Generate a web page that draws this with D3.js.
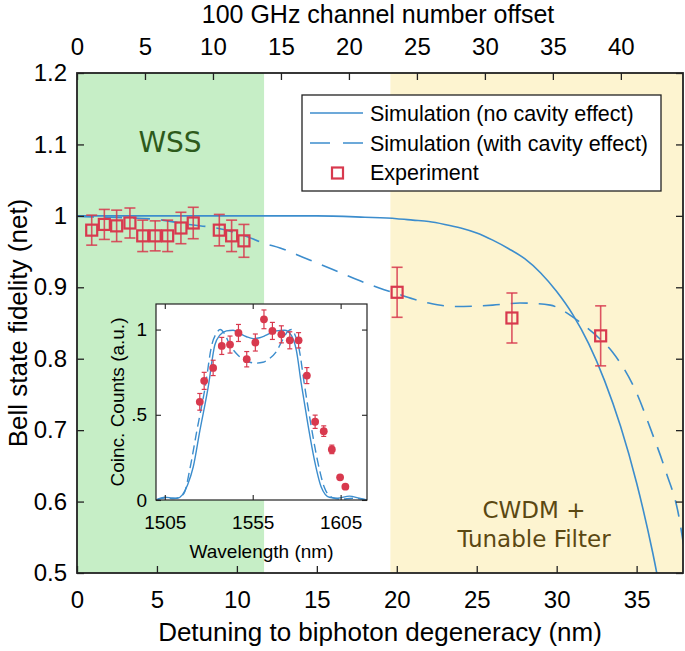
<!DOCTYPE html>
<html>
<head>
<meta charset="utf-8">
<script src="https://cdn.jsdelivr.net/npm/d3@7"></script>
<style>
  body { margin: 0; background: #fff; }
  text { font-family: "Liberation Sans", Arial, sans-serif; fill: #000; }
</style>
</head>
<body>
<div id="chart"></div>
<script>
// ---- data ----
var bottomTicks = [0, 5, 10, 15, 20, 25, 30, 35];
var topTicks = [0, 5, 10, 15, 20, 25, 30, 35, 40];
var yTicks = [0.5, 0.6, 0.7, 0.8, 0.9, 1.0, 1.1, 1.2];
var yTickLabels = ["0.5", "0.6", "0.7", "0.8", "0.9", "1", "1.1", "1.2"];

// shaded filter regions (nm)
var wssBand = [0, 11.7];
var cwdmBand = [19.6, 37.9];

// experiment
var expDetuning = [0.92, 1.71, 2.48, 3.31, 4.11, 4.89, 5.67, 6.5, 7.27, 8.9, 9.67, 10.44, 20.02, 27.2, 32.75];
var expFidelity = [0.980, 0.988, 0.986, 0.990, 0.972, 0.972, 0.972, 0.983, 0.990, 0.980, 0.972, 0.965, 0.893, 0.857, 0.832];
var expError = [0.021, 0.021, 0.022, 0.021, 0.022, 0.021, 0.022, 0.022, 0.022, 0.022, 0.022, 0.023, 0.035, 0.035, 0.042];

// simulation, no cavity effect
var simNoCavX = [0, 5, 10, 15, 18, 20, 21, 22, 23, 24, 25, 26, 27, 28, 29, 30, 31, 32, 33, 34, 35, 36, 37];
var simNoCavY = [1.000, 1.000, 1.000, 1.000, 0.998, 0.996, 0.994, 0.992, 0.988, 0.983, 0.976, 0.966, 0.954, 0.940, 0.920, 0.894, 0.862, 0.821, 0.769, 0.705, 0.626, 0.529, 0.411];

// simulation, with cavity effect
var simCavX = [0, 2, 5, 7, 8.7, 10.4, 11.64, 12.7, 14.36, 16.0, 17.7, 18.9, 20, 22, 23.7, 26, 27.7, 29.6, 30.5, 31.4, 32.5, 33.5, 35, 35.9, 36.86, 37.6, 38];
var simCavY = [0.999, 0.998, 0.995, 0.988, 0.983, 0.973, 0.962, 0.955, 0.940, 0.925, 0.909, 0.899, 0.891, 0.878, 0.873, 0.875, 0.878, 0.875, 0.866, 0.852, 0.832, 0.809, 0.752, 0.700, 0.640, 0.584, 0.530];

// inset: coincidence spectrum
var insetXTicks = [1505, 1555, 1605];
var insetYTicks = [0, 0.5, 1];
var insetYTickLabels = ["0", ".5", "1"];
var specWl = [1524.9, 1527.4, 1532.5, 1537.4, 1542.1, 1546.9, 1551.6, 1556.5, 1561.4, 1566.2, 1571.3, 1576.1, 1581.1, 1585.8, 1590.5, 1595.4, 1600.0, 1604.7, 1607.7];
var specCounts = [0.576, 0.699, 0.775, 0.904, 0.912, 0.980, 0.826, 0.924, 1.060, 0.992, 0.972, 0.937, 0.937, 0.730, 0.459, 0.404, 0.297, 0.133, 0.078];
var specError = [0.049, 0.05, 0.045, 0.05, 0.05, 0.05, 0.045, 0.05, 0.055, 0.05, 0.05, 0.05, 0.045, 0.047, 0.039, 0.031, 0.025, 0, 0];

var specNoCavWl = [1500, 1505, 1509, 1512, 1515, 1518, 1521.2, 1525, 1529.7, 1533.4, 1536.3, 1540.1, 1543.9, 1547.6, 1551.5, 1555.2, 1559, 1562.7, 1568.4, 1573.1, 1576.9, 1579.8, 1582.6, 1586.3, 1590.1, 1593.9, 1598.6, 1603.3, 1610, 1615.6, 1620];
var specNoCavY = [0.0, 0.016, 0.012, 0.01, 0.03, 0.09, 0.195, 0.41, 0.664, 0.908, 0.967, 0.992, 0.996, 0.977, 0.958, 0.947, 0.952, 0.967, 0.992, 0.996, 0.967, 0.879, 0.684, 0.449, 0.234, 0.078, 0.016, 0.01, 0.023, 0.01, 0.0];

var specCavWl = [1500, 1505, 1510, 1513, 1516, 1519.5, 1523.3, 1528, 1531.7, 1534.5, 1536.5, 1539, 1542, 1545.7, 1549.5, 1553.3, 1557, 1560.8, 1564.6, 1568.4, 1572, 1575, 1577, 1579, 1581.5, 1584.3, 1588, 1591.8, 1595.6, 1600, 1605, 1612, 1620];
var specCavY = [0.0, 0.012, 0.008, 0.015, 0.04, 0.195, 0.41, 0.664, 0.908, 0.98, 1.0, 0.975, 0.91, 0.86, 0.825, 0.808, 0.803, 0.808, 0.83, 0.87, 0.94, 0.99, 1.0, 0.97, 0.88, 0.684, 0.449, 0.234, 0.078, 0.016, 0.005, 0.01, 0.0];

var blue = "#3c8dcd";
var red = "#d8394e";

drawChart();

function drawChart() {
  var width = 685, height = 651;
  var left = 77, right = 683, top = 73, bottom = 573;

  var svg = d3.select("#chart").append("svg")
    .attr("width", width)
    .attr("height", height);

  var x = d3.scaleLinear().domain([0, 37.9]).range([left, right]);
  var xTop = d3.scaleLinear().domain([0, 44.57]).range([left, right]);
  var y = d3.scaleLinear().domain([0.5, 1.2]).range([bottom, top]);

  svg.append("clipPath").attr("id", "plotclip")
    .append("rect").attr("x", left).attr("y", top)
    .attr("width", right - left).attr("height", bottom - top);

  // shaded regions
  svg.append("rect")
    .attr("x", x(wssBand[0])).attr("y", top)
    .attr("width", x(wssBand[1]) - x(wssBand[0])).attr("height", bottom - top)
    .attr("fill", "#c6eec6");
  svg.append("rect")
    .attr("x", x(cwdmBand[0])).attr("y", top)
    .attr("width", x(cwdmBand[1]) - x(cwdmBand[0])).attr("height", bottom - top)
    .attr("fill", "#fdf4d0");

  svg.append("text").attr("x", 170).attr("y", 152)
    .attr("text-anchor", "middle")
    .style("font-family", "'DejaVu Sans', sans-serif")
    .style("font-size", "28px").style("fill", "#2d5a1b")
    .text("WSS");
  svg.append("text").attr("x", 534).attr("y", 518)
    .attr("text-anchor", "middle")
    .style("font-family", "'DejaVu Sans', sans-serif")
    .style("font-size", "23px").style("fill", "#5b4812")
    .text("CWDM +");
  svg.append("text").attr("x", 534).attr("y", 547)
    .attr("text-anchor", "middle")
    .style("font-family", "'DejaVu Sans', sans-serif")
    .style("font-size", "23px").style("fill", "#5b4812")
    .text("Tunable Filter");

  // simulation curves
  var plot = svg.append("g").attr("clip-path", "url(#plotclip)");
  var line = d3.line()
    .x(function(d) { return x(d[0]); })
    .y(function(d) { return y(d[1]); })
    .curve(d3.curveMonotoneX);

  plot.append("path")
    .attr("d", line(d3.zip(simNoCavX, simNoCavY)))
    .attr("fill", "none").attr("stroke", blue).attr("stroke-width", 1.6);
  plot.append("path")
    .attr("d", line(d3.zip(simCavX, simCavY)))
    .attr("fill", "none").attr("stroke", blue).attr("stroke-width", 1.6)
    .attr("stroke-dasharray", "17,11");

  // experiment points
  var exp = plot.selectAll(".exp")
    .data(d3.zip(expDetuning, expFidelity, expError))
    .enter().append("g").attr("class", "exp");
  exp.append("line")
    .attr("x1", function(d) { return x(d[0]); })
    .attr("x2", function(d) { return x(d[0]); })
    .attr("y1", function(d) { return y(d[1] - d[2]); })
    .attr("y2", function(d) { return y(d[1] + d[2]); })
    .attr("stroke", red).attr("stroke-width", 1.6).attr("opacity", 0.85);
  [-1, 1].forEach(function(s) {
    exp.append("line")
      .attr("x1", function(d) { return x(d[0]) - 5.5; })
      .attr("x2", function(d) { return x(d[0]) + 5.5; })
      .attr("y1", function(d) { return y(d[1] + s * d[2]); })
      .attr("y2", function(d) { return y(d[1] + s * d[2]); })
      .attr("stroke", red).attr("stroke-width", 1.6).attr("opacity", 0.85);
  });
  exp.append("rect")
    .attr("x", function(d) { return x(d[0]) - 5.5; })
    .attr("y", function(d) { return y(d[1]) - 5.5; })
    .attr("width", 11).attr("height", 11)
    .attr("fill", "none").attr("stroke", red).attr("stroke-width", 2.2);

  // axes, ticks pointing in
  var axB = svg.append("g").attr("transform", "translate(0," + bottom + ")")
    .call(d3.axisBottom(x).tickValues(bottomTicks).tickSize(-7).tickPadding(18));
  var axT = svg.append("g").attr("transform", "translate(0," + top + ")")
    .call(d3.axisTop(xTop).tickValues(topTicks).tickSize(-7).tickPadding(18));
  var axL = svg.append("g").attr("transform", "translate(" + left + ",0)")
    .call(d3.axisLeft(y).tickValues(yTicks).tickSize(-7).tickPadding(10)
      .tickFormat(function(d, i) { return yTickLabels[i]; }));
  var axR = svg.append("g").attr("transform", "translate(" + right + ",0)")
    .call(d3.axisRight(y).tickValues(yTicks).tickSize(-7).tickFormat(""));
  [axB, axT, axL, axR].forEach(function(a) {
    a.select(".domain").remove();
    a.selectAll("line").attr("stroke", "#222").attr("stroke-width", 1.3);
    a.selectAll("text").style("font-size", "24px")
      .style("font-family", "'Liberation Sans', Arial, sans-serif");
  });
  svg.append("rect")
    .attr("x", left).attr("y", top)
    .attr("width", right - left).attr("height", bottom - top)
    .attr("fill", "none").attr("stroke", "#222").attr("stroke-width", 1.8);

  svg.append("text").attr("x", 378).attr("y", 23)
    .attr("text-anchor", "middle").style("font-size", "25px")
    .text("100 GHz channel number offset");
  svg.append("text").attr("x", 380).attr("y", 641)
    .attr("text-anchor", "middle").style("font-size", "26px")
    .text("Detuning to biphoton degeneracy (nm)");
  svg.append("text")
    .attr("transform", "translate(27," + ((top + bottom) / 2) + ") rotate(-90)")
    .attr("text-anchor", "middle").style("font-size", "26px")
    .text("Bell state fidelity (net)");

  // legend
  var lg = svg.append("g");
  lg.append("rect").attr("x", 302).attr("y", 95).attr("width", 359).attr("height", 96)
    .attr("fill", "#fff").attr("stroke", "#222").attr("stroke-width", 1.3);
  lg.append("line").attr("x1", 310).attr("x2", 363).attr("y1", 113).attr("y2", 113)
    .attr("stroke", blue).attr("stroke-width", 1.6);
  lg.append("line").attr("x1", 310).attr("x2", 363).attr("y1", 143).attr("y2", 143)
    .attr("stroke", blue).attr("stroke-width", 1.6).attr("stroke-dasharray", "20,13");
  lg.append("rect").attr("x", 332).attr("y", 167.5).attr("width", 11).attr("height", 11)
    .attr("fill", "none").attr("stroke", red).attr("stroke-width", 2.2);
  var legendText = ["Simulation (no cavity effect)", "Simulation (with cavity effect)", "Experiment"];
  lg.selectAll(".lt").data(legendText).enter().append("text")
    .attr("x", 370).attr("y", function(d, i) { return 121 + i * 29.5; })
    .style("font-size", "21.5px")
    .text(function(d) { return d; });

  drawInset(svg);
}

function drawInset(svg) {
  var l = 156, r = 367, t = 304, b = 500;
  var x = d3.scaleLinear().domain([1500, 1620]).range([l, r]);
  var y = d3.scaleLinear().domain([0, 1.15]).range([b, t]);

  svg.append("clipPath").attr("id", "insetclip")
    .append("rect").attr("x", l).attr("y", t).attr("width", r - l).attr("height", b - t);

  svg.append("rect").attr("x", l).attr("y", t).attr("width", r - l).attr("height", b - t)
    .attr("fill", "#fff");

  var g = svg.append("g").attr("clip-path", "url(#insetclip)");
  var line = d3.line()
    .x(function(d) { return x(d[0]); })
    .y(function(d) { return y(d[1]); })
    .curve(d3.curveMonotoneX);
  g.append("path").attr("d", line(d3.zip(specNoCavWl, specNoCavY)))
    .attr("fill", "none").attr("stroke", blue).attr("stroke-width", 1.4);
  g.append("path").attr("d", line(d3.zip(specCavWl, specCavY)))
    .attr("fill", "none").attr("stroke", blue).attr("stroke-width", 1.4)
    .attr("stroke-dasharray", "9,5");

  var pts = g.selectAll(".sp").data(d3.zip(specWl, specCounts, specError))
    .enter().append("g").attr("class", "sp");
  pts.filter(function(d) { return d[2] > 0; }).each(function(d) {
    var s = d3.select(this);
    s.append("line").attr("x1", x(d[0])).attr("x2", x(d[0]))
      .attr("y1", y(d[1] - d[2])).attr("y2", y(d[1] + d[2]));
    s.append("line").attr("x1", x(d[0]) - 2.5).attr("x2", x(d[0]) + 2.5)
      .attr("y1", y(d[1] - d[2])).attr("y2", y(d[1] - d[2]));
    s.append("line").attr("x1", x(d[0]) - 2.5).attr("x2", x(d[0]) + 2.5)
      .attr("y1", y(d[1] + d[2])).attr("y2", y(d[1] + d[2]));
    s.selectAll("line").attr("stroke", red).attr("stroke-width", 1.2);
  });
  pts.append("circle")
    .attr("cx", function(d) { return x(d[0]); })
    .attr("cy", function(d) { return y(d[1]); })
    .attr("r", 3.9).attr("fill", red);

  var axB = svg.append("g").attr("transform", "translate(0," + b + ")")
    .call(d3.axisBottom(x).tickValues(insetXTicks).tickSize(-5).tickPadding(16)
      .tickFormat(d3.format("d")));
  var axT = svg.append("g").attr("transform", "translate(0," + t + ")")
    .call(d3.axisTop(x).tickValues(insetXTicks).tickSize(-5).tickFormat(""));
  var axL = svg.append("g").attr("transform", "translate(" + l + ",0)")
    .call(d3.axisLeft(y).tickValues(insetYTicks).tickSize(-5).tickPadding(9)
      .tickFormat(function(d, i) { return insetYTickLabels[i]; }));
  var axR = svg.append("g").attr("transform", "translate(" + r + ",0)")
    .call(d3.axisRight(y).tickValues(insetYTicks).tickSize(-5).tickFormat(""));
  [axB, axT, axL, axR].forEach(function(a) {
    a.select(".domain").remove();
    a.selectAll("line").attr("stroke", "#222").attr("stroke-width", 1.1);
    a.selectAll("text").style("font-size", "19px")
      .style("font-family", "'Liberation Sans', Arial, sans-serif");
  });
  svg.append("rect").attr("x", l).attr("y", t).attr("width", r - l).attr("height", b - t)
    .attr("fill", "none").attr("stroke", "#222").attr("stroke-width", 1.2);

  svg.append("text").attr("x", (l + r) / 2).attr("y", 558)
    .attr("text-anchor", "middle").style("font-size", "19px")
    .text("Wavelength (nm)");
  svg.append("text")
    .attr("transform", "translate(124," + ((t + b) / 2) + ") rotate(-90)")
    .attr("text-anchor", "middle").style("font-size", "19px")
    .text("Coinc. Counts (a.u.)");
}
</script>
</body>
</html>
